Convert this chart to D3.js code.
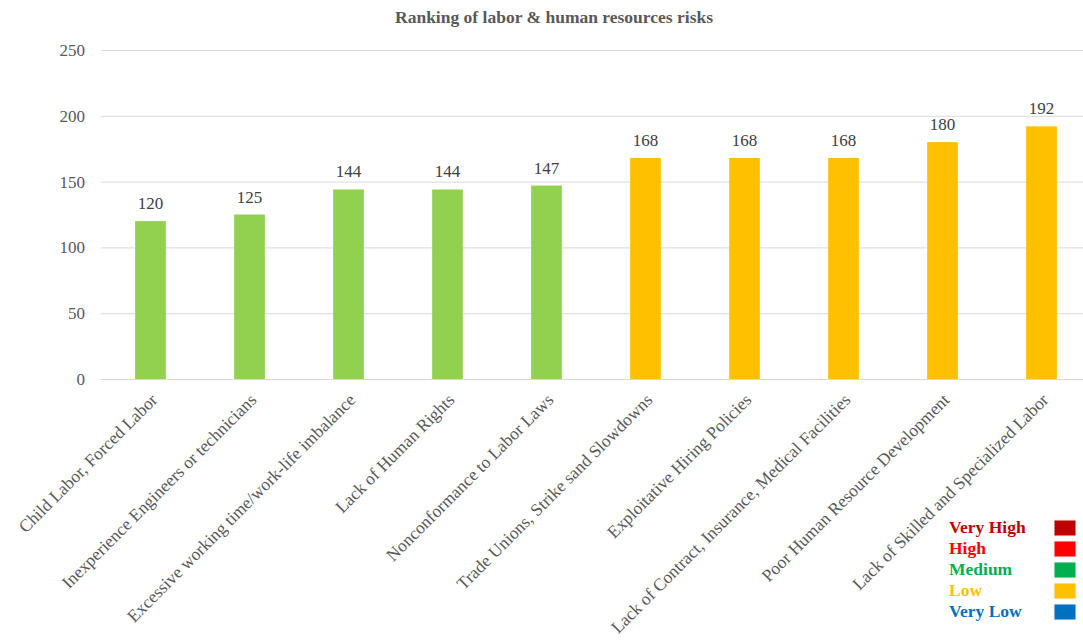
<!DOCTYPE html>
<html>
<head>
<meta charset="utf-8">
<script src="https://cdn.jsdelivr.net/npm/d3@7"></script>
<style>
  body { margin: 0; background: #fff; }
  svg { display: block; font-family: "Liberation Serif", "Times New Roman", serif; }
</style>
</head>
<body>
<svg id="chart" width="1083" height="641"></svg>
<script>
// Risk categories and their ranking scores
const categories = [
  "Child Labor, Forced Labor",
  "Inexperience Engineers or technicians",
  "Excessive working time/work-life imbalance",
  "Lack of Human Rights",
  "Nonconformance to Labor Laws",
  "Trade Unions, Strike sand Slowdowns",
  "Exploitative Hiring Policies",
  "Lack of Contract, Insurance, Medical Facilities",
  "Poor Human Resource Development",
  "Lack of Skilled and Specialized Labor"
];
const scores = [120, 125, 144, 144, 147, 168, 168, 168, 180, 192];
const levels = ["Medium", "Medium", "Medium", "Medium", "Medium", "Low", "Low", "Low", "Low", "Low"];
const yTicks = [0, 50, 100, 150, 200, 250];

const legendLabels = ["Very High", "High", "Medium", "Low", "Very Low"];
const legendColors = ["#C00000", "#FF0000", "#00B050", "#FFC000", "#0070C0"];
const barColors = { "Medium": "#92D050", "Low": "#FFC000" };

const svg = d3.select("#chart");

const x = d3.scaleBand()
  .domain(categories)
  .range([101, 1091])
  .paddingInner(0.69)
  .paddingOuter(0.345);

const y = d3.scaleLinear()
  .domain([0, 250])
  .range([379, 50]);

// Title
svg.append("text")
  .attr("x", 554)
  .attr("y", 23)
  .attr("text-anchor", "middle")
  .attr("font-weight", "bold")
  .attr("font-size", 17.5)
  .attr("fill", "#595959")
  .text("Ranking of labor & human resources risks");

// Gridlines and y labels
const yAxis = d3.axisLeft(y)
  .tickValues(yTicks)
  .tickSize(-(1091 - 101))
  .tickPadding(16);

const gy = svg.append("g")
  .attr("transform", "translate(101,0)")
  .call(yAxis);
gy.select(".domain").remove();
gy.selectAll(".tick line").attr("stroke", "#D9D9D9").attr("stroke-width", 1);
gy.selectAll(".tick text")
  .attr("fill", "#595959")
  .attr("font-size", 17)
  .attr("font-family", "Liberation Serif, Times New Roman, serif");

// Bars
svg.append("g")
  .selectAll("rect")
  .data(categories)
  .join("rect")
  .attr("x", d => x(d))
  .attr("width", x.bandwidth())
  .attr("y", (d, i) => y(scores[i]))
  .attr("height", (d, i) => y(0) - y(scores[i]))
  .attr("fill", (d, i) => barColors[levels[i]]);

// Value labels
svg.append("g")
  .selectAll("text")
  .data(categories)
  .join("text")
  .attr("x", d => x(d) + x.bandwidth() / 2)
  .attr("y", (d, i) => y(scores[i]) - 12)
  .attr("text-anchor", "middle")
  .attr("font-size", 17)
  .attr("fill", "#404040")
  .text((d, i) => scores[i]);

// Category axis with rotated labels
const xAxis = d3.axisBottom(x).tickSize(0).tickPadding(0);
const gx = svg.append("g")
  .attr("transform", "translate(0,379)")
  .call(xAxis);
gx.select(".domain").attr("stroke", "#D9D9D9");
gx.selectAll(".tick text")
  .attr("fill", "#595959")
  .attr("font-size", 17.5)
  .attr("font-family", "Liberation Serif, Times New Roman, serif")
  .attr("text-anchor", "end")
  .attr("dy", null)
  .attr("y", 0)
  .attr("transform", "translate(8,22) rotate(-45)");

// Risk level legend
const legend = svg.append("g").attr("transform", "translate(949,533)");
const rows = legend.selectAll("g")
  .data(legendLabels)
  .join("g")
  .attr("transform", (d, i) => `translate(0,${i * 21})`);
rows.append("text")
  .attr("x", 0)
  .attr("y", 0)
  .attr("font-weight", "bold")
  .attr("font-size", 17.5)
  .attr("fill", (d, i) => legendColors[i])
  .text(d => d);
rows.append("rect")
  .attr("x", 105)
  .attr("y", -13)
  .attr("width", 22)
  .attr("height", 16)
  .attr("fill", (d, i) => legendColors[i])
  .attr("stroke", "#f2f2f2")
  .attr("stroke-width", 1);
</script>
</body>
</html>
